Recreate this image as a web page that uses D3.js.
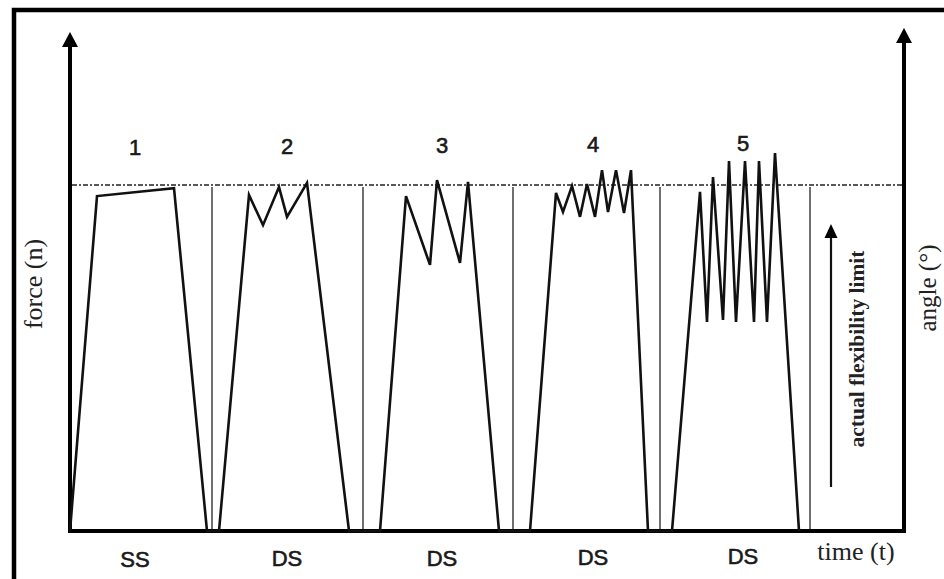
<!DOCTYPE html>
<html><head><meta charset="utf-8">
<script src="https://cdn.jsdelivr.net/npm/d3@7"></script>
<style>html,body{margin:0;padding:0;background:#fff;}svg{display:block;}</style>
</head><body>
<svg id="chart" width="944" height="579"></svg>
<script>
// ---- data ----
const trialLabels = ["1", "2", "3", "4", "5"];
const phaseLabels = ["SS", "DS", "DS", "DS", "DS"];
const labelTimes = [65, 217, 372, 523, 673];
const separatorTimes = [142, 293, 443, 590, 740];
const flexLimit = 100;
// force curve (time, force as % of flexibility limit)
const curveTime = [0, 27, 104, 137, 149, 179, 193, 209, 217, 237, 279,
  310, 336, 360, 367, 390, 398, 429,
  460, 486, 493, 502, 510, 517, 525, 532, 538, 546, 554, 561, 578,
  602, 630, 637, 643, 653, 659, 666, 675, 684, 689, 697, 705, 729];
const curveForce = [0, 96.8, 99.1, 0, 0, 97.1, 88.4, 99.4, 90.8, 100.6, 0,
  0, 96.8, 76.9, 101.4, 77.5, 100.9, 0,
  0, 97.7, 92.2, 99.7, 90.8, 100.3, 90.8, 104.3, 92.2, 104.3, 91.9, 104.3, 0,
  0, 98.0, 60.4, 102.3, 61.0, 106.9, 60.4, 106.9, 60.4, 106.9, 60.4, 109.2, 0];

const svg = d3.select("#chart");
const x = d3.scaleLinear().domain([0, 834]).range([70, 904]);
const y = d3.scaleLinear().domain([0, 100]).range([531, 185]);

// frame (left & top)
svg.append("path").attr("d", "M14,579 L14,10 L944,10")
  .attr("fill", "none").attr("stroke", "#000").attr("stroke-width", 4.5);

// flexibility limit dashed line
svg.append("line").attr("x1", x(2)).attr("x2", x(834)).attr("y1", y(flexLimit)).attr("y2", y(flexLimit))
  .attr("stroke", "#222").attr("stroke-width", 1.6).attr("stroke-dasharray", "5,2,2,2");

// separators
svg.selectAll(".sep").data(separatorTimes).enter().append("line")
  .attr("x1", d => x(d)).attr("x2", d => x(d)).attr("y1", y(flexLimit) + 2).attr("y2", y(0))
  .attr("stroke", "#333").attr("stroke-width", 1.4);

// axes
const axisG = svg.append("g");
axisG.append("line").attr("x1", x(0)).attr("x2", x(834)).attr("y1", y(0)).attr("y2", y(0))
  .attr("stroke", "#000").attr("stroke-width", 4);
axisG.append("line").attr("x1", x(0)).attr("x2", x(0)).attr("y1", y(0) + 2).attr("y2", 44)
  .attr("stroke", "#000").attr("stroke-width", 4);
axisG.append("line").attr("x1", x(834)).attr("x2", x(834)).attr("y1", y(0) + 2).attr("y2", 40)
  .attr("stroke", "#000").attr("stroke-width", 4);
function arrowHead(cx, tip, w, h) {
  svg.append("path").attr("d", `M${cx},${tip} L${cx - w / 2},${tip + h} L${cx + w / 2},${tip + h} Z`).attr("fill", "#000");
}
arrowHead(x(0), 32, 16, 15);
arrowHead(x(834), 28, 16, 15);

// force curve
const pts = curveTime.map((t, i) => [t, curveForce[i]]);
svg.append("path").datum(pts)
  .attr("d", d3.line().x(d => x(d[0])).y(d => y(d[1])))
  .attr("fill", "none").attr("stroke", "#111").attr("stroke-width", 2.6).attr("stroke-linejoin", "miter");

// trial numbers
svg.selectAll(".num").data(trialLabels).enter().append("text")
  .attr("x", (d, i) => x(labelTimes[i])).attr("y", (d, i) => 155 - i * 1)
  .attr("text-anchor", "middle").attr("font-family", "Liberation Sans, Arial, sans-serif")
  .attr("font-size", 22).attr("fill", "#1a1a1a").attr("stroke", "#1a1a1a").attr("stroke-width", 0.6)
  .text(d => d);

// phase labels
svg.selectAll(".ph").data(phaseLabels).enter().append("text")
  .attr("x", (d, i) => x(labelTimes[i])).attr("y", (d, i) => 567 - i * 0.7)
  .attr("text-anchor", "middle").attr("font-family", "Liberation Sans, Arial, sans-serif")
  .attr("font-size", 22).attr("fill", "#1a1a1a").attr("stroke", "#1a1a1a").attr("stroke-width", 0.6)
  .text(d => d);

// axis titles
const serif = "Liberation Serif, Times New Roman, serif";
svg.append("text").attr("x", 856).attr("y", 560).attr("text-anchor", "middle")
  .attr("font-family", serif).attr("font-size", 26).attr("fill", "#222").text("time (t)");
svg.append("text").attr("transform", "translate(42,284) rotate(-90)").attr("text-anchor", "middle")
  .attr("font-family", serif).attr("font-size", 26).attr("fill", "#222").text("force (n)");
svg.append("text").attr("transform", "translate(936,288) rotate(-90)").attr("text-anchor", "middle")
  .attr("font-family", serif).attr("font-size", 25).attr("fill", "#222").text("angle (°)");

// flexibility limit annotation
svg.append("line").attr("x1", 831).attr("x2", 831).attr("y1", 487).attr("y2", 236)
  .attr("stroke", "#111").attr("stroke-width", 2.2);
arrowHead(831, 224, 13, 14);
svg.append("text").attr("transform", "translate(864,349) rotate(-90)").attr("text-anchor", "middle")
  .attr("font-family", serif).attr("font-size", 21).attr("font-weight", "bold").attr("fill", "#222")
  .attr("textLength", 197).attr("lengthAdjust", "spacingAndGlyphs")
  .text("actual flexibility limit");
</script>
</body></html>
